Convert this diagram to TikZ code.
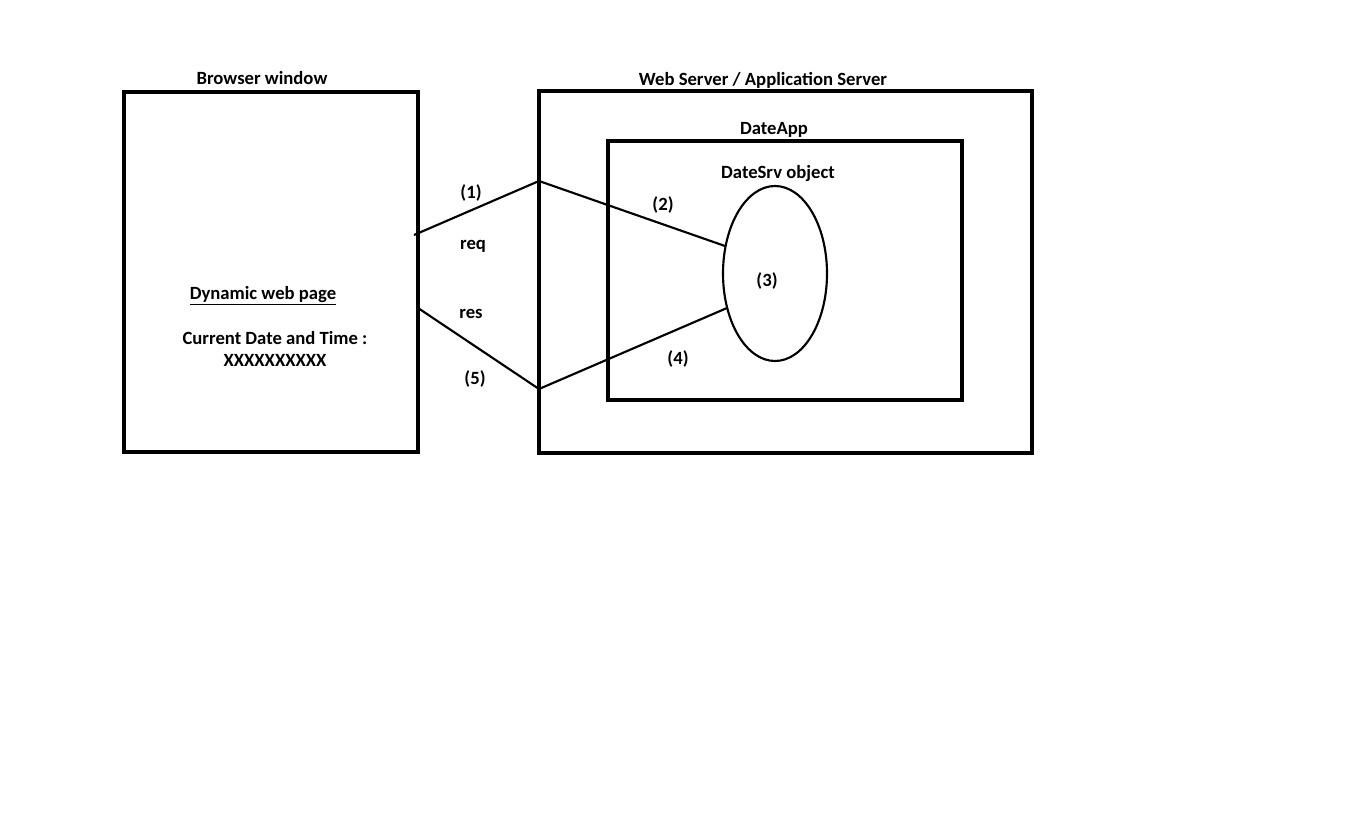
\documentclass[tikz,border=0pt]{standalone}
\usepackage{fontspec}
\setmainfont{Carlito}
\usetikzlibrary{shapes.geometric}

\begin{document}
\begin{tikzpicture}[x=0.75pt,y=-0.75pt,
  box/.style={draw,line width=2.4pt,inner sep=0pt},
  link/.style={line width=1.6pt},
  every node/.style={font=\fontsize{14}{17}\selectfont\bfseries}]
  \useasboundingbox (0,0) rectangle (1358,831);

  % boxes, drawn between their corners
  \node[box,minimum width=294*0.75pt,minimum height=360*0.75pt] (browser) at (271,272) {};
  \node[box,minimum width=493*0.75pt,minimum height=362*0.75pt] (server) at (785.5,272) {};
  \node[box,minimum width=354*0.75pt,minimum height=259*0.75pt] (app) at (785,270.5) {};
  \node[draw,ellipse,line width=1.6pt,minimum width=104*0.75pt,
    minimum height=175*0.75pt,inner sep=0pt] (srv) at (775,273.5) {};

  % titles
  \node (browsertitle) at (262,78) {Browser window};
  \node (servertitle) at (763,80) {Web Server / Application Server};
  \node (apptitle) at (774,130) {DateApp};
  \node (srvtitle) at (778,174) {DateSrv object};

  % page content
  \node (page) at (263,296) {\underline{Dynamic web page}};
  \node[align=center] (datetime) at (275,349) {Current Date and Time :\\XXXXXXXXXX};

  % request and response path
  \coordinate (reqstart) at (414,235);
  \coordinate (reqbend) at (539,181);
  \coordinate (srvin) at (725,246);
  \coordinate (srvout) at (727,308);
  \coordinate (resbend) at (539,389);
  \coordinate (resend) at (418,308);
  \draw[link] (reqstart) -- (reqbend) -- (srvin);
  \draw[link] (srvout) -- (resbend) -- (resend);

  % step labels
  \node (step1) at (471,193) {(1)};
  \node (step2) at (663,205) {(2)};
  \node (step3) at (767,281) {(3)};
  \node (step4) at (678,359) {(4)};
  \node (step5) at (475,379) {(5)};
  \node (req) at (473,246) {req};
  \node (res) at (471,314) {res};
\end{tikzpicture}
\end{document}
